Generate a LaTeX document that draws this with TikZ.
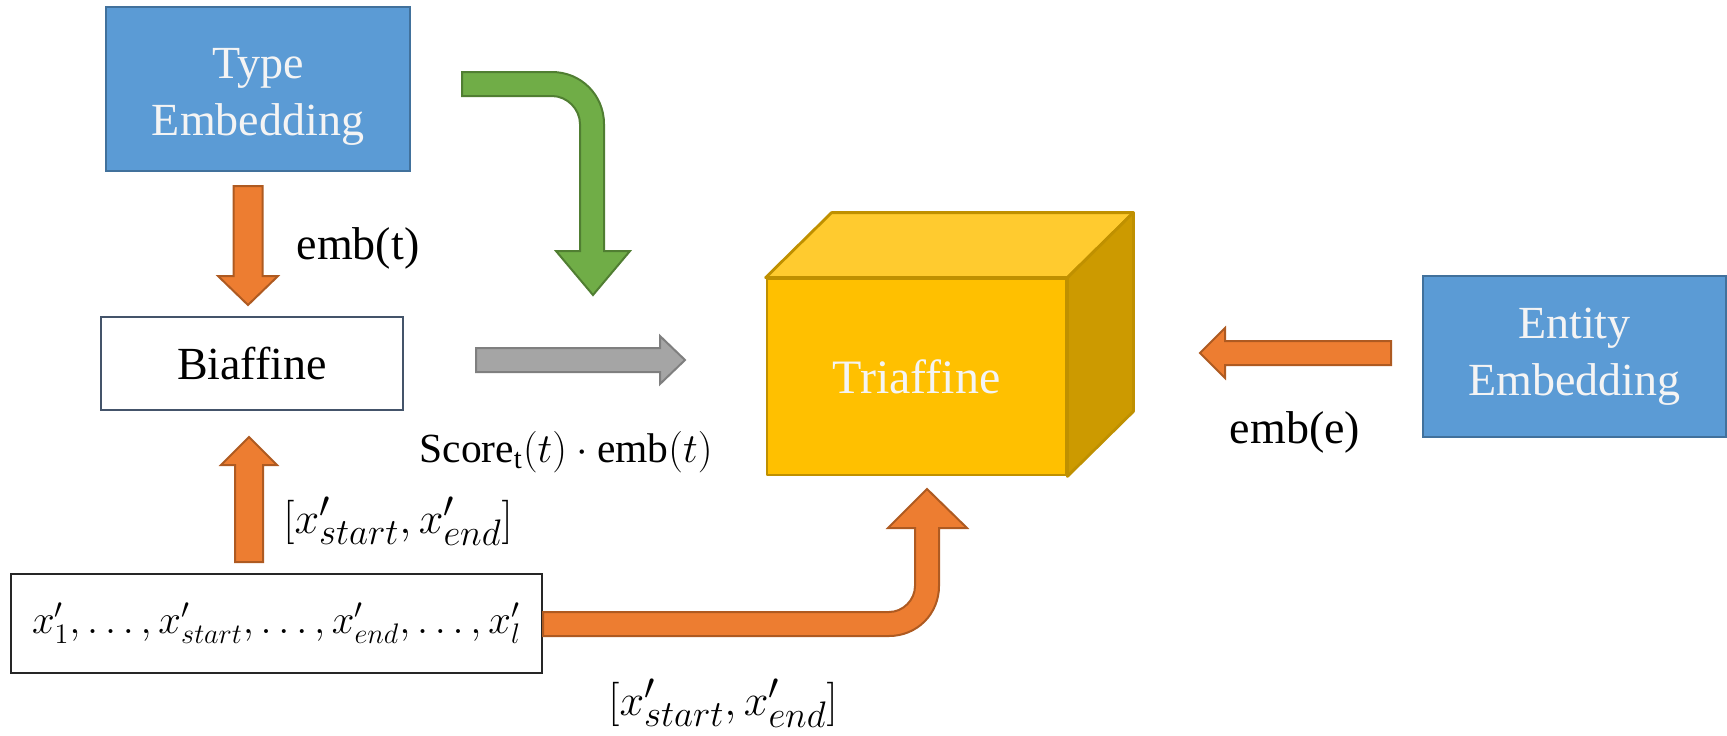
\documentclass[tikz,border=0pt]{standalone}
\usepackage{graphicx}
\usepackage{fontspec}
\setmainfont{Liberation Serif}
\usetikzlibrary{calc}

\definecolor{blueFill}{HTML}{5B9BD5}
\definecolor{blueLine}{HTML}{41719C}
\definecolor{orFill}{HTML}{ED7D31}
\definecolor{orLine}{HTML}{AE5A21}
\definecolor{grFill}{HTML}{70AD47}
\definecolor{grLine}{HTML}{507E32}
\definecolor{gyFill}{HTML}{A5A5A5}
\definecolor{gyLine}{HTML}{7F7F7F}
\definecolor{goldFront}{HTML}{FFC000}
\definecolor{goldTop}{HTML}{FFCB2F}
\definecolor{goldSide}{HTML}{CC9A00}
\definecolor{goldLine}{HTML}{BF9000}
\definecolor{slate}{HTML}{44546A}
\definecolor{paleText}{HTML}{F4F4F4}

% straight block arrow: style, start, direction, length, half shaft, half head, head length
\newcommand{\blockarrow}[7]{%
  \begin{scope}[shift={#2}, rotate=#3]
    \draw[#1] (0,-#5) -- ({#4-#7},-#5) -- ({#4-#7},-#6) -- (#4,0)
      -- ({#4-#7},#6) -- ({#4-#7},#5) -- (0,#5) -- cycle;
  \end{scope}}

% span of start and end token vectors
\newcommand{\spantext}{\scalebox{0.89}{$[x'_{start}, x'_{end}]$}}

\begin{document}
\begin{tikzpicture}[x=0.5pt,y=-0.5pt,
  bluebox/.style={draw=blueLine, fill=blueFill, line width=1.2pt, text=paleText,
    align=center, inner sep=0pt, font=\fontsize{23}{28.5}\selectfont},
  whitebox/.style={fill=white, inner sep=0pt},
  lbl/.style={inner sep=0pt, font=\fontsize{23}{28}\selectfont},
  mlbl/.style={inner sep=0pt, font=\fontsize{20.74}{25}\selectfont},
  spanlbl/.style={inner sep=0pt, font=\fontsize{24.88}{28}\selectfont},
  orarrow/.style={fill=orFill, draw=orLine, line width=1pt},
  grarrow/.style={fill=grFill, draw=grLine, line width=1pt},
  gyarrow/.style={fill=gyFill, draw=gyLine, line width=1pt},
  cubeface/.style={draw=goldLine, line width=1.4pt, line join=round}]

\useasboundingbox (0,0) rectangle (1727,735);

% boxes
\node[bluebox, minimum width=152pt, minimum height=82pt] (type) at (258,89) {};
\node[text=paleText, align=center, inner sep=0pt, font=\fontsize{23}{28.5}\selectfont]
  (typetext) at (258,97) {Type\\Embedding};
\node[whitebox, draw=slate, line width=1.4pt, minimum width=151pt, minimum height=46.5pt,
  font=\fontsize{23}{28}\selectfont] (bi) at (252,363.5) {Biaffine};
\node[whitebox, draw=black!85, line width=1pt, minimum width=265.5pt, minimum height=49.5pt,
  font=\fontsize{20.74}{24}\selectfont] (inp) at (276.5,623.5)
  {\scalebox{0.98}{$x'_1, \ldots, x'_{start}, \ldots, x'_{end}, \ldots, x'_l$}};
\node[bluebox, minimum width=151.5pt, minimum height=80.5pt] (ent) at (1574.5,356.5) {Entity\\Embedding};

% triaffine cube
\node[cubeface, fill=goldFront, minimum width=149.5pt, minimum height=98pt, inner sep=0pt,
  text=paleText, font=\fontsize{24}{28}\selectfont] (tri) at (916.5,377) {Triaffine};
\draw[cubeface, fill=goldTop] (tri.north west) -- ++(66,-65) -- ($(tri.north east)+(66,-65)$)
  -- (tri.north east) -- cycle;
\draw[cubeface, fill=goldSide] (tri.north east) -- ++(66,-65) -- ($(tri.south east)+(66,-65)$)
  -- (tri.south east) -- cycle;

% straight arrows
\blockarrow{orarrow}{(248,186)}{-90}{119}{14.5}{30}{29}
\blockarrow{orarrow}{(249,562)}{90}{125}{14}{28}{28}
\blockarrow{gyarrow}{(476,360)}{0}{209}{12}{24}{25}
\blockarrow{orarrow}{(1391,353)}{180}{191}{12}{25}{25}

% bent arrow from the type embedding down to the cube
\draw[grarrow] (462,72) -- (552,72) .. controls (581,72) and (604,95) .. (604,124)
  -- (604,251) -- (630,251) -- (593,295) -- (556,251) -- (580,251) -- (580,124)
  .. controls (580,109) and (567,96) .. (552,96) -- (462,96) -- cycle;

% bent arrow from the input sequence up to the cube
\draw[orarrow] (inp.east |- 0,612) -- (889,612) .. controls (903,612) and (915,600) .. (915,586)
  -- (915,528) -- (888,528) -- (927,489) -- (967,528) -- (939,528) -- (939,586)
  .. controls (939,614) and (917,636) .. (889,636) -- (inp.east |- 0,636) -- cycle;

% labels
\node[lbl] (embt) at (358,248) {emb(t)};
\node[mlbl] (score) at (566,452) {$\mathrm{Score}_{\mathrm{t}}(t)\cdot\mathrm{emb}(t)$};
\node[spanlbl] (span1) at (398,521) {\spantext};
\node[spanlbl] (span2) at (723,703) {\spantext};
\node[lbl] (embe) at (1295,432) {emb(e)};

\end{tikzpicture}
\end{document}
